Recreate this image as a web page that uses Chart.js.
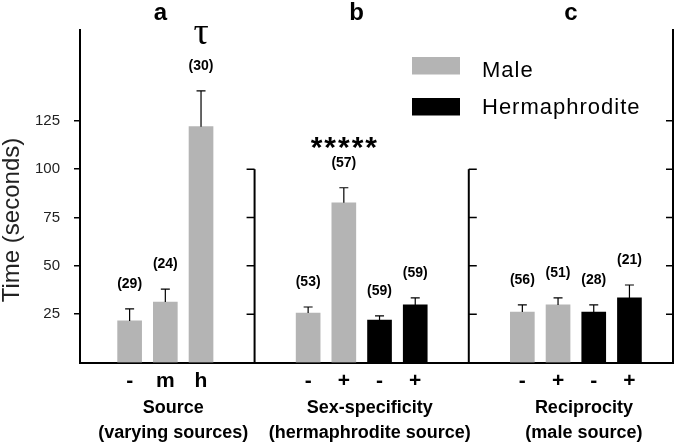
<!DOCTYPE html>
<html>
<head>
<meta charset="utf-8">
<script src="https://cdn.jsdelivr.net/npm/chart.js@4.4.0/dist/chart.umd.min.js"></script>
<style>
  body { margin: 0; background: #fff; }
  canvas { display: block; }
</style>
</head>
<body>
<canvas id="chart" width="679" height="447"></canvas>
<script>
// Panels
var panelNames = ['a', 'b', 'c'];
var panelTitles = ['Source', 'Sex-specificity', 'Reciprocity'];
var panelSubtitles = ['(varying sources)', '(hermaphrodite source)', '(male source)'];

// One entry per bar
var barPanel = [0, 0, 0, 1, 1, 1, 1, 2, 2, 2, 2];
var barLabels = ['-', 'm', 'h', '-', '+', '-', '+', '-', '+', '-', '+'];
var barSex = ['Male', 'Male', 'Male', 'Male', 'Male', 'Hermaphrodite', 'Hermaphrodite',
              'Male', 'Male', 'Hermaphrodite', 'Hermaphrodite'];
var meanTime = [21.5, 31.3, 122, 25.6, 82.6, 22, 29.8, 26.1, 29.8, 26.1, 33.4];
var errTime = [6.2, 6.7, 18.5, 3.1, 7.8, 2.1, 3.6, 3.7, 3.6, 3.7, 6.7];
var sampleSize = [29, 24, 30, 53, 57, 59, 59, 56, 51, 28, 21];
var marks = ['', '', 'τ', '', '*****', '', '', '', '', '', ''];

var sexes = ['Male', 'Hermaphrodite'];
var sexColors = ['#b4b4b4', '#000000'];

// Axis ticks
var yTicks = [25, 50, 75, 100, 125];
var innerTicks = [25, 50, 75, 100];

var FONT = '"Liberation Sans", Arial, Helvetica, sans-serif';
Chart.defaults.font.family = FONT;
Chart.defaults.color = '#000';

// two empty slots between panels
var GAP = 2;
var slots = barLabels.map(function (l, i) { return i + GAP * barPanel[i]; });

function makeDataset(sex, k) {
    var pts = [];
    for (var i = 0; i < meanTime.length; i++) {
        if (barSex[i] === sex) pts.push({ x: slots[i], y: meanTime[i] });
    }
    return {
        label: sex,
        data: pts,
        backgroundColor: sexColors[k],
        borderWidth: 0,
        barThickness: 24,
        grouped: false
    };
}

function panelCenter(xs, p) {
    var sum = 0, n = 0;
    for (var i = 0; i < slots.length; i++) {
        if (barPanel[i] === p) { sum += xs.getPixelForValue(slots[i]); n++; }
    }
    return sum / n;
}

// error bars, n labels, panel axes, legend, titles
var extras = {
    id: 'extras',
    afterDatasetsDraw: function (chart) {
        var ctx = chart.ctx;
        var xs = chart.scales.x;
        var ys = chart.scales.y;
        var area = chart.chartArea;
        ctx.save();
        ctx.strokeStyle = '#000';
        ctx.fillStyle = '#000';

        for (var i = 0; i < meanTime.length; i++) {
            var x = xs.getPixelForValue(slots[i]);
            var yMean = ys.getPixelForValue(meanTime[i]);
            var yTop = ys.getPixelForValue(meanTime[i] + errTime[i]);
            ctx.lineWidth = 1.2;
            ctx.beginPath();
            ctx.moveTo(x, yMean);
            ctx.lineTo(x, yTop);
            ctx.moveTo(x - 4.5, yTop);
            ctx.lineTo(x + 4.5, yTop);
            ctx.stroke();

            var yN = yTop - 25;
            ctx.font = 'bold 14px ' + FONT;
            ctx.textAlign = 'center';
            ctx.textBaseline = 'middle';
            ctx.fillText('(' + sampleSize[i] + ')', x, yN);

            if (marks[i] === 'τ') {
                ctx.font = '38px "Liberation Serif", "DejaVu Serif", serif';
                ctx.textBaseline = 'alphabetic';
                ctx.fillText(marks[i], x, yN - 22);
            } else if (marks[i]) {
                ctx.font = 'bold 30px ' + FONT;
                ctx.textBaseline = 'alphabetic';
                ctx.letterSpacing = '2px';
                ctx.fillText(marks[i], x + 1, yN - 6);
                ctx.letterSpacing = '0px';
            }
        }

        // inner axes of panels b and c
        for (var p = 1; p < panelNames.length; p++) {
            var last = barPanel.lastIndexOf(p - 1);
            var first = barPanel.indexOf(p);
            var ax = xs.getPixelForValue((slots[last] + slots[first]) / 2);
            var dir = p === 1 ? -1 : 1;
            ctx.lineWidth = 2;
            ctx.beginPath();
            ctx.moveTo(ax, ys.getPixelForValue(0));
            ctx.lineTo(ax, ys.getPixelForValue(innerTicks[innerTicks.length - 1]));
            ctx.stroke();
            ctx.lineWidth = 1.5;
            ctx.beginPath();
            innerTicks.forEach(function (v) {
                var ty = ys.getPixelForValue(v);
                ctx.moveTo(ax, ty);
                ctx.lineTo(ax + dir * 8, ty);
            });
            ctx.stroke();
        }

        // inward ticks on the right axis
        ctx.lineWidth = 1.5;
        ctx.beginPath();
        yTicks.forEach(function (v) {
            var ty = ys.getPixelForValue(v);
            ctx.moveTo(area.right - 7, ty);
            ctx.lineTo(area.right, ty);
        });
        ctx.stroke();

        // panel letters and group titles
        for (var q = 0; q < panelNames.length; q++) {
            var cx = panelCenter(xs, q);
            ctx.textAlign = 'center';
            ctx.textBaseline = 'middle';
            ctx.font = 'bold 24px ' + FONT;
            ctx.fillText(panelNames[q], cx - 5, 13);
            ctx.font = 'bold 18px ' + FONT;
            ctx.fillText(panelTitles[q], cx + 8, 408);
            ctx.fillText(panelSubtitles[q], cx + 8, 433);
        }

        // legend
        var legY = [57, 98];
        var legText = [77, 114];
        chart.data.datasets.forEach(function (ds, k) {
            ctx.fillStyle = ds.backgroundColor;
            ctx.fillRect(412, legY[k], 48, 17.5);
            ctx.fillStyle = '#000';
            ctx.font = '22px ' + FONT;
            ctx.textAlign = 'left';
            ctx.textBaseline = 'alphabetic';
            ctx.letterSpacing = '1px';
            ctx.fillText(ds.label, 482, legText[k]);
            ctx.letterSpacing = '0px';
        });

        // y axis title
        ctx.save();
        ctx.translate(19, 220);
        ctx.rotate(-Math.PI / 2);
        ctx.fillStyle = '#222';
        ctx.font = '24px ' + FONT;
        ctx.textAlign = 'center';
        ctx.textBaseline = 'alphabetic';
        ctx.fillText('Time (seconds)', 0, 0);
        ctx.restore();

        ctx.restore();
    }
};

var ctx = document.getElementById('chart').getContext('2d');
var chart = new Chart(ctx, {
    type: 'bar',
    data: {
        datasets: sexes.map(makeDataset)
    },
    options: {
        responsive: false,
        animation: false,
        events: [],
        layout: { padding: { top: 30, left: 0, right: 0, bottom: 0 } },
        plugins: {
            legend: { display: false },
            tooltip: { enabled: false }
        },
        scales: {
            x: {
                type: 'linear',
                position: 'bottom',
                min: -1.39,
                max: 15.22,
                offset: false,
                grid: { display: false, drawTicks: false },
                border: { display: true, color: '#000', width: 2 },
                afterBuildTicks: function (scale) {
                    scale.ticks = slots.map(function (v) { return { value: v }; });
                },
                afterFit: function (scale) { scale.height = 84.5; },
                ticks: {
                    autoSkip: false,
                    maxRotation: 0,
                    padding: 6,
                    color: '#000',
                    font: { size: 21, weight: 'bold' },
                    callback: function (v, i) { return barLabels[i]; }
                }
            },
            y: {
                type: 'linear',
                position: 'left',
                min: 0,
                max: 172,
                grid: { display: true, drawOnChartArea: false, drawTicks: true, tickLength: 6, color: '#000', lineWidth: 1.5 },
                border: { display: true, color: '#000', width: 2 },
                afterBuildTicks: function (scale) {
                    scale.ticks = yTicks.map(function (v) { return { value: v }; });
                },
                afterFit: function (scale) { scale.width = 80; },
                ticks: { padding: 14, color: '#222', font: { size: 15 } }
            },
            y2: {
                type: 'linear',
                position: 'right',
                min: 0,
                max: 172,
                grid: { display: false, drawTicks: false },
                border: { display: true, color: '#000', width: 2 },
                ticks: { display: false },
                afterFit: function (scale) { scale.width = 6; }
            }
        }
    },
    plugins: [extras]
});
</script>
</body>
</html>
